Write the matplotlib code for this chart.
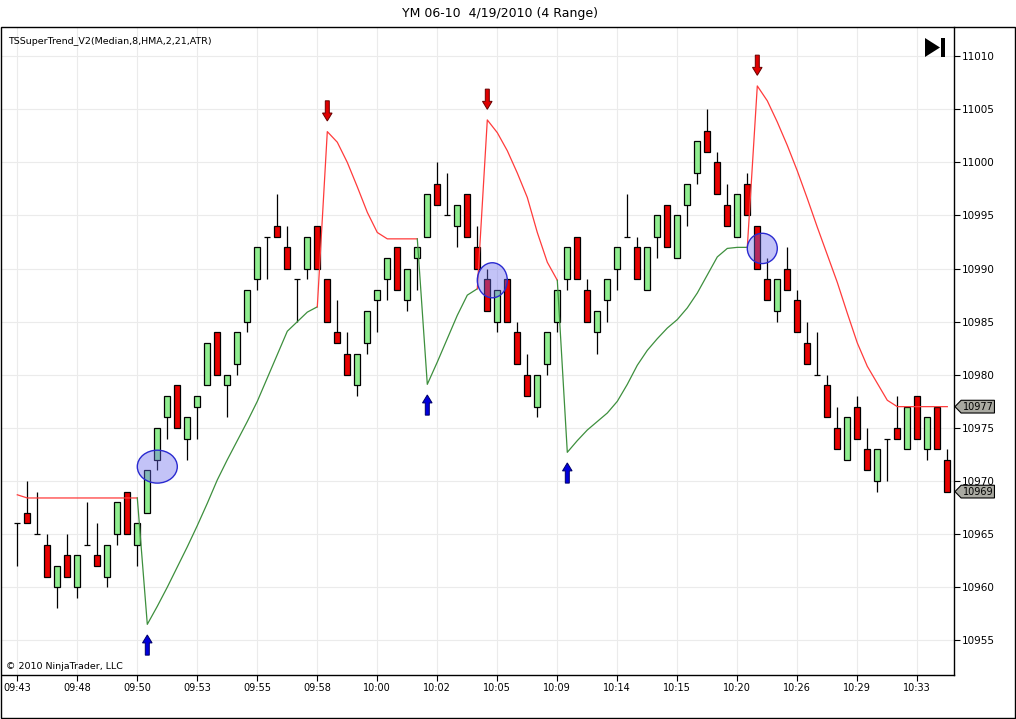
import numpy as np
import matplotlib
matplotlib.use('Agg')
from matplotlib import pyplot as plt
from matplotlib.patches import Ellipse, Polygon, Rectangle
from matplotlib.transforms import blended_transform_factory

# YM 06-10, 4 range bars (open, high, low, close)
opens = [10966, 10967, 10965, 10964, 10960, 10963, 10960, 10964, 10963, 10961,
         10965, 10969, 10964, 10967, 10972, 10976, 10979, 10974, 10977, 10979,
         10984, 10979, 10981, 10985, 10989, 10993, 10994, 10992, 10989, 10990,
         10994, 10989, 10984, 10982, 10979, 10983, 10987, 10989, 10992, 10987,
         10991, 10993, 10998, 10995, 10994, 10997, 10992, 10989, 10985, 10989,
         10984, 10980, 10977, 10981, 10985, 10989, 10993, 10988, 10984, 10987,
         10990, 10993, 10992, 10988, 10993, 10996, 10991, 10996, 10999, 11003,
         11000, 10996, 10993, 10998, 10994, 10989, 10986, 10990, 10987, 10983,
         10980, 10979, 10975, 10972, 10977, 10973, 10970, 10974, 10975, 10973,
         10978, 10973, 10977, 10972]
highs = [10966, 10970, 10969, 10965, 10962, 10965, 10963, 10968, 10966, 10964,
         10968, 10969, 10966, 10971, 10975, 10978, 10979, 10976, 10978, 10983,
         10984, 10980, 10984, 10988, 10992, 10993, 10997, 10994, 10989, 10993,
         10994, 10989, 10987, 10984, 10982, 10986, 10988, 10991, 10992, 10990,
         10992, 10997, 11000, 10999, 10996, 10997, 10994, 10990, 10988, 10989,
         10985, 10982, 10980, 10984, 10988, 10992, 10993, 10989, 10986, 10989,
         10992, 10997, 10993, 10992, 10995, 10996, 10995, 10998, 11002, 11005,
         11001, 10998, 10997, 10999, 10994, 10991, 10989, 10992, 10988, 10985,
         10984, 10980, 10977, 10976, 10978, 10975, 10973, 10974, 10978, 10977,
         10978, 10976, 10977, 10973]
lows = [10962, 10966, 10965, 10961, 10958, 10961, 10959, 10964, 10962, 10960,
        10964, 10965, 10962, 10967, 10971, 10974, 10975, 10972, 10974, 10979,
        10980, 10976, 10980, 10984, 10988, 10989, 10993, 10990, 10985, 10989,
        10990, 10985, 10983, 10980, 10978, 10982, 10984, 10987, 10988, 10986,
        10988, 10993, 10996, 10995, 10992, 10993, 10990, 10986, 10984, 10985,
        10981, 10978, 10976, 10980, 10984, 10988, 10989, 10985, 10982, 10985,
        10988, 10993, 10989, 10988, 10991, 10992, 10991, 10994, 10998, 11001,
        10997, 10994, 10993, 10995, 10990, 10987, 10985, 10988, 10984, 10981,
        10980, 10976, 10973, 10972, 10974, 10971, 10969, 10970, 10974, 10973,
        10974, 10972, 10973, 10969]
closes = [10966, 10966, 10965, 10961, 10962, 10961, 10963, 10964, 10962, 10964,
          10968, 10965, 10966, 10971, 10975, 10978, 10975, 10976, 10978, 10983,
          10980, 10980, 10984, 10988, 10992, 10993, 10993, 10990, 10989, 10993,
          10990, 10985, 10983, 10980, 10982, 10986, 10988, 10991, 10988, 10990,
          10992, 10997, 10996, 10995, 10996, 10993, 10990, 10986, 10988, 10985,
          10981, 10978, 10980, 10984, 10988, 10992, 10989, 10985, 10986, 10989,
          10992, 10993, 10989, 10992, 10995, 10992, 10995, 10998, 11002, 11001,
          10997, 10994, 10997, 10995, 10990, 10987, 10989, 10988, 10984, 10981,
          10980, 10976, 10973, 10976, 10974, 10971, 10973, 10974, 10974, 10977,
          10974, 10976, 10973, 10969]

# TSSuperTrend value and its direction (1 = up / green, -1 = down / red)
supertrend = [10968.7, 10968.4, 10968.4, 10968.4, 10968.4, 10968.4, 10968.4, 10968.4,
              10968.4, 10968.4, 10968.4, 10968.4, 10968.4, 10956.5, 10958.2, 10960.0,
              10961.9, 10963.8, 10965.8, 10967.9, 10970.1, 10972.0, 10973.8, 10975.6,
              10977.5, 10979.7, 10981.9, 10984.1, 10985.0, 10985.9, 10986.4, 11002.9,
              11001.9, 11000.0, 10997.7, 10995.3, 10993.4, 10992.8, 10992.8, 10992.8,
              10992.8, 10979.1, 10981.2, 10983.4, 10985.6, 10987.5, 10988.1, 11004.0,
              11002.8, 11001.1, 10999.0, 10996.7, 10993.4, 10990.6, 10988.9, 10972.7,
              10973.8, 10974.8, 10975.6, 10976.4, 10977.5, 10979.1, 10980.9, 10982.3,
              10983.4, 10984.4, 10985.2, 10986.3, 10987.7, 10989.4, 10991.1, 10991.9,
              10992.0, 10992.0, 11007.2, 11005.8, 11003.8, 11001.6, 10999.2, 10996.6,
              10993.9, 10991.3, 10988.7, 10985.8, 10983.0, 10980.8, 10979.2, 10977.6,
              10977.0, 10977.0, 10977.0, 10977.0, 10977.0, 10977.0]
trend = [-1] * 13 + [1] * 18 + [-1] * 10 + [1] * 6 + [-1] * 8 + [1] * 19 + [-1] * 20

# time labels every 6 bars
time_labels = ['09:43', '09:48', '09:50', '09:53', '09:55', '09:58', '10:00', '10:02',
               '10:05', '10:09', '10:14', '10:15', '10:20', '10:26', '10:29', '10:33']

# hand drawn ellipses (bar index, price, width in bars, height in points)
circle_bar = [14.0, 47.5, 74.5]
circle_price = [10971.35, 10988.9, 10991.9]
circle_w = [4.0, 3.0, 3.0]
circle_h = [3.1, 3.3, 2.85]

W, H = 1016, 719
GREEN_BODY = '#90ee90'
RED_BODY = '#e80000'


def px(x, y):
    # pixel position -> figure fraction
    return x / W, 1 - y / H


def draw_candles(ax, x):
    o, h, l, c = map(np.array, (opens, highs, lows, closes))
    ax.vlines(x, l, h, color='black', lw=0.9, zorder=2)
    body_w = 0.62
    for i in range(len(x)):
        if o[i] == c[i]:
            ax.hlines(o[i], x[i] - body_w / 2, x[i] + body_w / 2, color='black', lw=0.9, zorder=3)
            continue
        color = GREEN_BODY if c[i] > o[i] else RED_BODY
        ax.bar(x[i], abs(c[i] - o[i]), bottom=min(o[i], c[i]), width=body_w,
               color=color, edgecolor='black', lw=0.9, zorder=3)


def draw_supertrend(ax, x):
    st = np.array(supertrend)
    start = 0
    for i in range(1, len(st) + 1):
        if i == len(st) or trend[i] != trend[start]:
            lo = max(start - 1, 0)
            color = '#3d8f3d' if trend[start] == 1 else '#ff3b3b'
            ax.plot(x[lo:i], st[lo:i], color=color, lw=0.9, zorder=4)
            start = i

    # arrows on trend changes
    for i in range(1, len(st)):
        if trend[i] == trend[i - 1]:
            continue
        d = -1 if trend[i] == 1 else 1  # arrow sits below for up, above for down
        tip = st[i] + d * 1.0
        neck = tip + d * 0.75
        tail = tip + d * 1.9
        pts = [(x[i], tip), (x[i] - 0.48, neck), (x[i] - 0.2, neck), (x[i] - 0.2, tail),
               (x[i] + 0.2, tail), (x[i] + 0.2, neck), (x[i] + 0.48, neck)]
        fc = '#0000dd' if trend[i] == 1 else '#e00000'
        ec = '#000066' if trend[i] == 1 else '#660000'
        ax.add_patch(Polygon(pts, closed=True, facecolor=fc, edgecolor=ec, lw=0.7, zorder=5))


def draw_tags(ax):
    trans = blended_transform_factory(ax.transAxes, ax.transData)
    for value in (supertrend[-1], closes[-1]):
        hh = 0.6
        pts = [(1.001, value), (1.0075, value + hh), (1.0425, value + hh),
               (1.0425, value - hh), (1.0075, value - hh)]
        ax.add_patch(Polygon(pts, closed=True, transform=trans, clip_on=False,
                             facecolor='#a9a9a1', edgecolor='black', lw=0.8, zorder=10))
        ax.text(1.0255, value, f'{value:.0f}', transform=trans, ha='center', va='center',
                fontsize=7.0, zorder=11, clip_on=False)


def main():
    fig = plt.figure(figsize=(W / 100, H / 100), dpi=100)
    ax = fig.add_axes([2 / W, 44 / H, 952 / W, 648 / H])
    x = np.arange(len(closes))

    draw_candles(ax, x)
    draw_supertrend(ax, x)

    for bx, by, bw, bh in zip(circle_bar, circle_price, circle_w, circle_h):
        ax.add_patch(Ellipse((bx, by), bw, bh, facecolor=(0.42, 0.42, 0.93, 0.40),
                             edgecolor='#2a2ad0', lw=1.0, zorder=6))

    ax.set_xlim(-1.53, 93.67)
    ax.set_ylim(10951.73, 11012.75)

    ax.set_xticks(np.arange(0, 6 * len(time_labels), 6))
    ax.set_xticklabels(time_labels, fontsize=7)
    ax.yaxis.tick_right()
    ax.set_yticks(np.arange(10955, 11011, 5))
    ax.set_yticklabels([str(v) for v in range(10955, 11011, 5)], fontsize=7.5)
    ax.tick_params(length=4, width=0.8, pad=1.5)
    ax.grid(True, color='#ebebeb', lw=0.8, zorder=0)
    ax.set_axisbelow(True)
    for side in ('top', 'left'):
        ax.spines[side].set_visible(False)
    for side in ('right', 'bottom'):
        ax.spines[side].set_linewidth(1.0)

    draw_tags(ax)

    ax.text(0.006, 0.985, 'TSSuperTrend_V2(Median,8,HMA,2,21,ATR)', transform=ax.transAxes,
            fontsize=6.8, va='top', ha='left')
    ax.text(0.004, 0.006, '\u00a9 2010 NinjaTrader, LLC', transform=ax.transAxes,
            fontsize=6.8, va='bottom', ha='left')

    fig.text(*px(500, 13), 'YM 06-10  4/19/2010 (4 Range)', fontsize=9, ha='center', va='center')

    # outer frame
    fig.add_artist(Rectangle(px(1, 718), 1014 / W, 691 / H, transform=fig.transFigure,
                             fill=False, edgecolor='black', lw=1.0))
    # "go to last bar" icon
    fig.add_artist(Polygon([px(925, 38), px(925, 57), px(940, 47.5)], closed=True,
                           transform=fig.transFigure, facecolor='black', edgecolor='none'))
    fig.add_artist(Rectangle(px(941, 57), 4 / W, 19 / H, transform=fig.transFigure,
                             facecolor='black', edgecolor='none'))

    fig.savefig('out.png', dpi=100)


if __name__ == '__main__':
    main()
